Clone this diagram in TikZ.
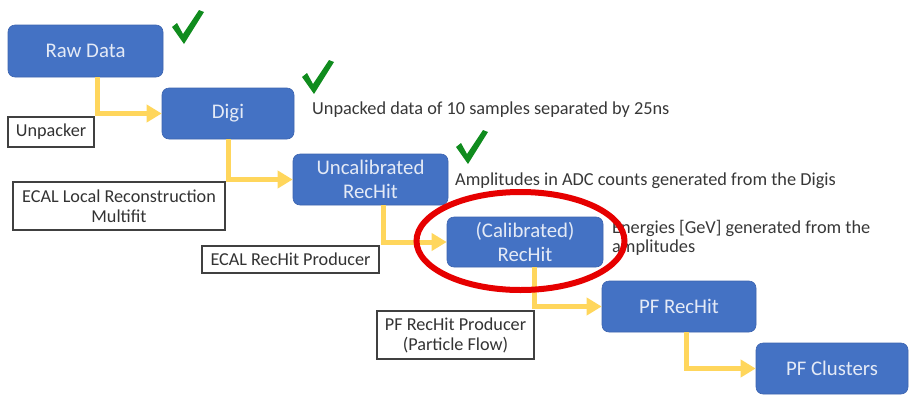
\documentclass[tikz,border=0pt]{standalone}
\usepackage{fontspec}
\setmainfont{Carlito}
\usetikzlibrary{arrows.meta}
\definecolor{boxblue}{RGB}{68,114,196}
\definecolor{boxedge}{RGB}{60,100,175}
\definecolor{boxtxt}{RGB}{228,234,246}
\definecolor{flowyel}{RGB}{255,214,92}
\definecolor{tickgreen}{RGB}{16,140,30}
\definecolor{desctxt}{RGB}{55,55,55}
\definecolor{ringred}{RGB}{230,0,0}
\begin{document}
\begin{tikzpicture}[x=1pt,y=-1pt,
  stage/.style={draw=boxedge, line width=0.6pt, fill=boxblue, rounded corners=7pt, text=boxtxt, font=\fontsize{20.8}{24}\selectfont, align=center, inner sep=0pt},
  proc/.style={draw=black!75, line width=1.1pt, fill=white, text=black!80, font=\fontsize{18.2}{20}\selectfont, align=center, inner sep=0pt},
  desc/.style={anchor=west, inner sep=0pt, text=desctxt, font=\fontsize{18.3}{19}\selectfont, align=left},
  flow/.style={draw=flowyel, line width=5pt, -{Triangle[length=15pt,width=17pt]}},
  checkmk/.pic={\fill[tickgreen] (0,17) -- (5,13) -- (11,24) -- (27,0) -- (32,2) -- (12,34) -- cycle;}]
\useasboundingbox (0,0) rectangle (910,413);

% stages
\node[stage, minimum width=155pt, minimum height=52pt] (raw)   at (85.5,51)   {Raw Data};
\node[stage, minimum width=132pt, minimum height=51pt] (digi)  at (228,113.5) {Digi};
\node[stage, minimum width=155pt, minimum height=51pt] (uncal) at (370.5,179.5) {Uncalibrated\\RecHit};
\node[stage, minimum width=156pt, minimum height=50pt] (cal)   at (525,242)   {(Calibrated)\\RecHit};
\node[stage, minimum width=154pt, minimum height=51pt] (pfrh)  at (679,306.5) {PF RecHit};
\node[stage, minimum width=152pt, minimum height=51pt] (pfcl)  at (832,368.5) {PF Clusters};

% process labels
\node[proc, minimum width=86pt,  minimum height=30pt] (unp)   at (51,132)     {Unpacker};
\node[proc, minimum width=212pt, minimum height=48pt] (ecall) at (119,206)    {ECAL Local Reconstruction\\Multifit};
\node[proc, minimum width=177pt, minimum height=27pt] (ecalr) at (290.5,259.5) {ECAL RecHit Producer};
\node[proc, minimum width=157pt, minimum height=48pt] (pfprod) at (455.5,335) {PF RecHit Producer\\(Particle Flow)};

% connectors
\draw[flow] ([xshift=90pt]raw.south west) |- (digi.west);
\draw[flow] ([xshift=67pt]digi.south west) |- (uncal.west);
\draw[flow] ([xshift=91pt]uncal.south west) |- (cal.west);
\draw[flow] ([xshift=88pt]cal.south west) |- (pfrh.west);
\draw[flow] ([xshift=85pt]pfrh.south west) |- (pfcl.west);

% descriptions
\node[desc] (d1) at (312,110) {Unpacked data of 10 samples separated by 25ns};
\node[desc] (d2) at (455,181) {Amplitudes in ADC counts generated from the Digis};
\node[desc] (d3) at (612,238) {Energies [GeV] generated from the\\amplitudes};

% check marks
\pic at (172,10) {checkmk};
\pic at (302,60) {checkmk};
\pic at (456,130) {checkmk};

% highlight ring
\draw[ringred, line width=6pt] (520.5,241) ellipse [x radius=104, y radius=49];
\end{tikzpicture}
\end{document}
